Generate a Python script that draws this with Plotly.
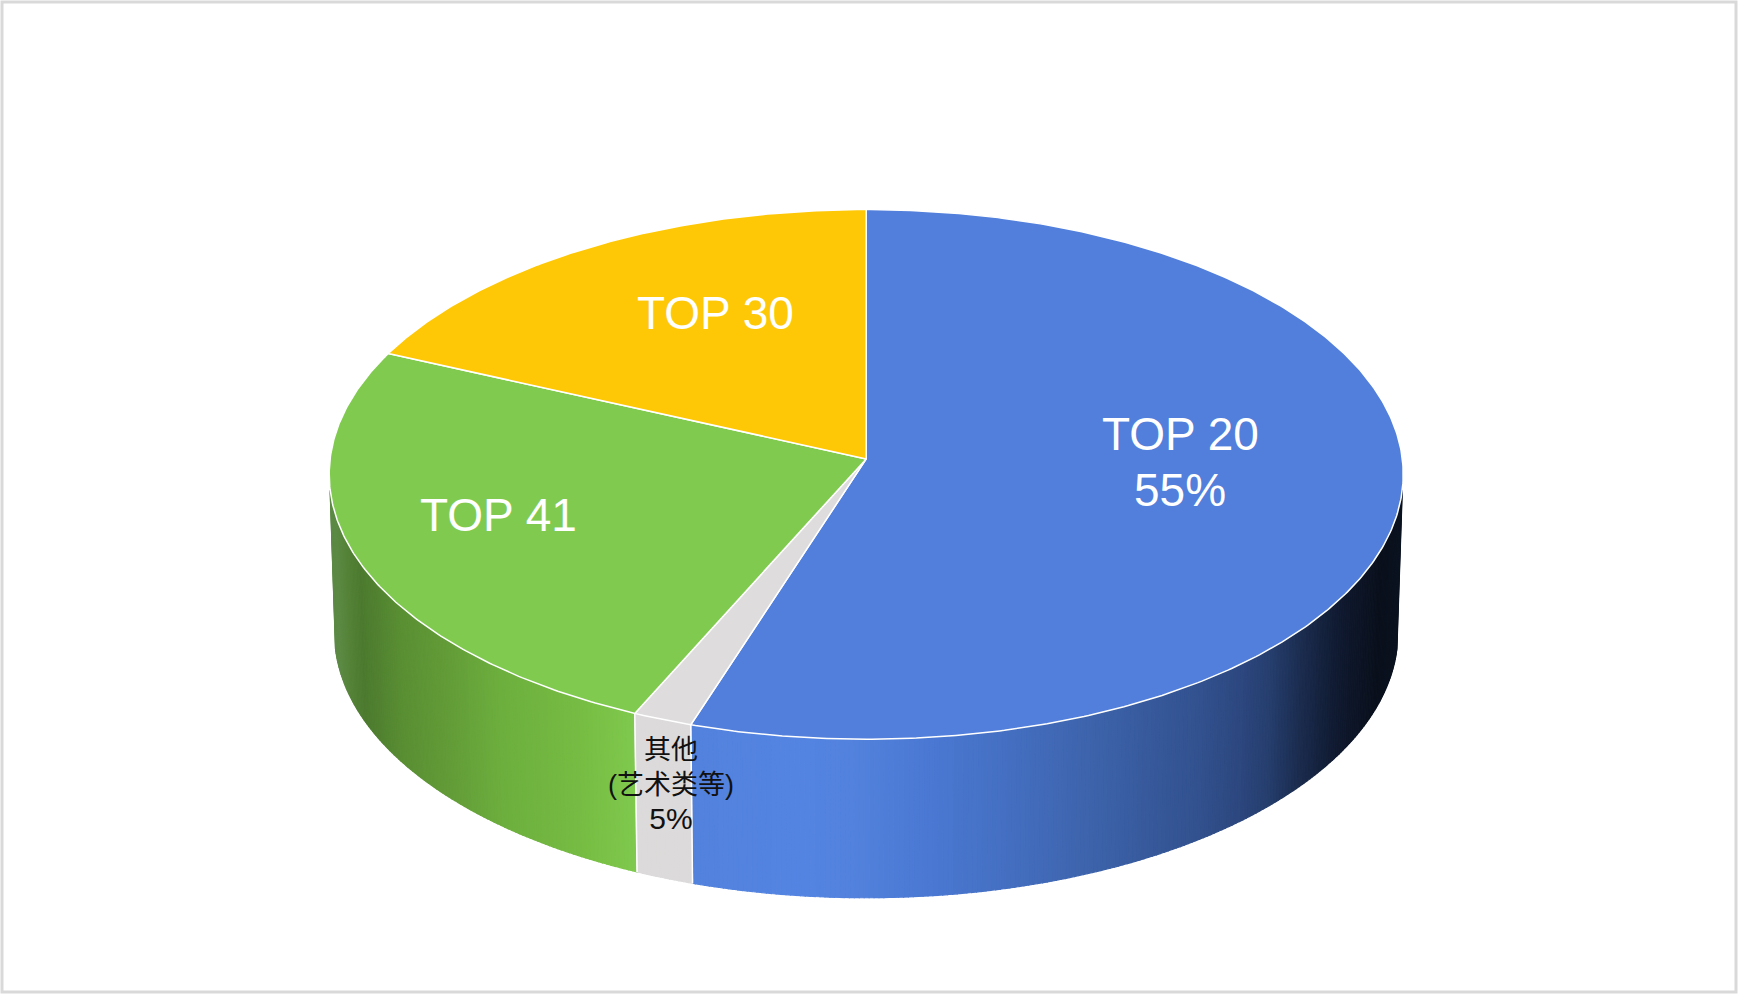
import numpy as np
import plotly.graph_objects as go

# ---- data ----
categories = ["TOP 20", "其他", "TOP 41", "TOP 30"]
shares = [55.0, 1.7, 25.0, 18.3]          # share of the full turn, clockwise from 12 o'clock
top_colors = ["#517fdb", "#dedcdc", "#80cb4f", "#fec807"]

label_lines = ["TOP 20", "55%", "TOP 30", "TOP 41",
               "其他<br>(艺术类等)<br><span style='font-size:30px'>5%</span>"]
label_x = [1180, 1180, 715, 498, 671]
label_y = [434, 490, 313, 515, 785]
label_size = [46, 46, 46, 46, 27]
label_color = ["white", "white", "white", "white", "#111111"]
label_font = ["Liberation Sans"] * 4 + ["Liberation Sans, Noto Sans CJK SC"]

# wall shading: horizontal colour stops
blue_stop_x = [690, 800, 850, 930, 1000, 1100, 1200, 1240, 1270, 1300, 1340, 1380, 1400]
blue_stop_c = ["#5282dc", "#5484e2", "#5282dd", "#4a78d2", "#4570c3", "#3c62a9", "#32518e",
               "#2d4880", "#263f6e", "#1c2d50", "#101a30", "#0a101c", "#0b1320"]
green_stop_x = [335, 345, 360, 400, 450, 500, 560, 590, 640]
green_stop_c = ["#5c8a45", "#558338", "#4c7a2f", "#5a8f33", "#639d38", "#6daf3e", "#74b942",
                "#78bf45", "#80cb4f"]
gray_wall = "#dcdada"

# ---- geometry of the view ----
CX, Y0 = 866.2, 458.9     # pie centre on the page
A, B, K = 536.1, -237.1, 0.0585   # perspective projection of the unit circle
WALL_H = 158.5
WALL_SCALE = 0.99
THETA_R, THETA_L = 96.7, 263.3     # where the wall begins and ends


def project(theta_deg, lower=False):
    t = np.radians(theta_deg)
    X, Y = np.sin(t), np.cos(t)
    w = 1 + K * Y
    s = WALL_SCALE if lower else 1.0
    return CX + s * A * X / w, (Y0 + B * Y) / w + (WALL_H if lower else 0)


def hex2rgb(c):
    return np.array([int(c[i:i + 2], 16) for i in (1, 3, 5)], float)


def ramp(x, xs, cs):
    rgb = np.array([hex2rgb(c) for c in cs])
    vals = [np.interp(x, xs, rgb[:, i]) for i in range(3)]
    return "rgb(%d,%d,%d)" % tuple(int(round(v)) for v in vals)


edges = np.concatenate([[0], np.cumsum(shares)]) * 3.6
fig = go.Figure()


def add_poly(xs, ys, fill, line_color, line_w):
    fig.add_trace(go.Scatter(x=list(xs), y=list(ys), mode="lines", fill="toself", fillcolor=fill,
                             line=dict(color=line_color, width=line_w), hoverinfo="skip",
                             showlegend=False))


def add_wall(t0, t1, color_fn):
    steps = np.arange(t0, t1, 0.5)
    for a0 in steps:
        a1 = min(a0 + 0.5, t1)
        xa, ya = project(a0)
        xb, yb = project(a1)
        xc, yc = project(a1, True)
        xd, yd = project(a0, True)
        col = color_fn((xa + xb) / 2)
        add_poly([xa, xb, xc, xd, xa], [ya, yb, yc, yd, ya], col, col, 1.2)


# side walls
add_wall(THETA_R, edges[1], lambda x: ramp(x, blue_stop_x, blue_stop_c))
add_wall(edges[2], THETA_L, lambda x: ramp(x, green_stop_x, green_stop_c))
add_wall(edges[1], edges[2], lambda x: gray_wall)

# white seams on the wall
for th in (edges[1], edges[2]):
    xa, ya = project(th)
    xb, yb = project(th, True)
    fig.add_trace(go.Scatter(x=[xa, xb], y=[ya, yb], mode="lines", hoverinfo="skip", showlegend=False,
                             line=dict(color="white", width=1.5)))

# top faces
for i, col in enumerate(top_colors):
    th = np.linspace(edges[i], edges[i + 1], max(int(edges[i + 1] - edges[i]) * 2, 4))
    xs, ys = project(th)
    add_poly(np.concatenate([[CX], xs, [CX]]), np.concatenate([[Y0], ys, [Y0]]), col, "white", 1.5)

annotations = [
    dict(x=x, y=y, xref="x", yref="y", text=t, showarrow=False, xanchor="center", yanchor="middle",
         font=dict(size=s, color=c, family=f))
    for t, x, y, s, c, f in zip(label_lines, label_x, label_y, label_size, label_color, label_font)
]

fig.update_layout(
    width=1738, height=994, margin=dict(l=0, r=0, t=0, b=0),
    paper_bgcolor="white", plot_bgcolor="white", showlegend=False,
    xaxis=dict(range=[0, 1738], visible=False, fixedrange=True),
    yaxis=dict(range=[994, 0], visible=False, fixedrange=True),
    annotations=annotations,
    shapes=[dict(type="rect", xref="x", yref="y", x0=2, y0=2, x1=1736, y1=992,
                 line=dict(color="#d9d9d9", width=3), fillcolor="rgba(0,0,0,0)", layer="below")],
)

fig.write_html("out.html", config={"displayModeBar": False},
               post_script="document.body.style.margin='0';document.body.style.overflow='hidden';")
